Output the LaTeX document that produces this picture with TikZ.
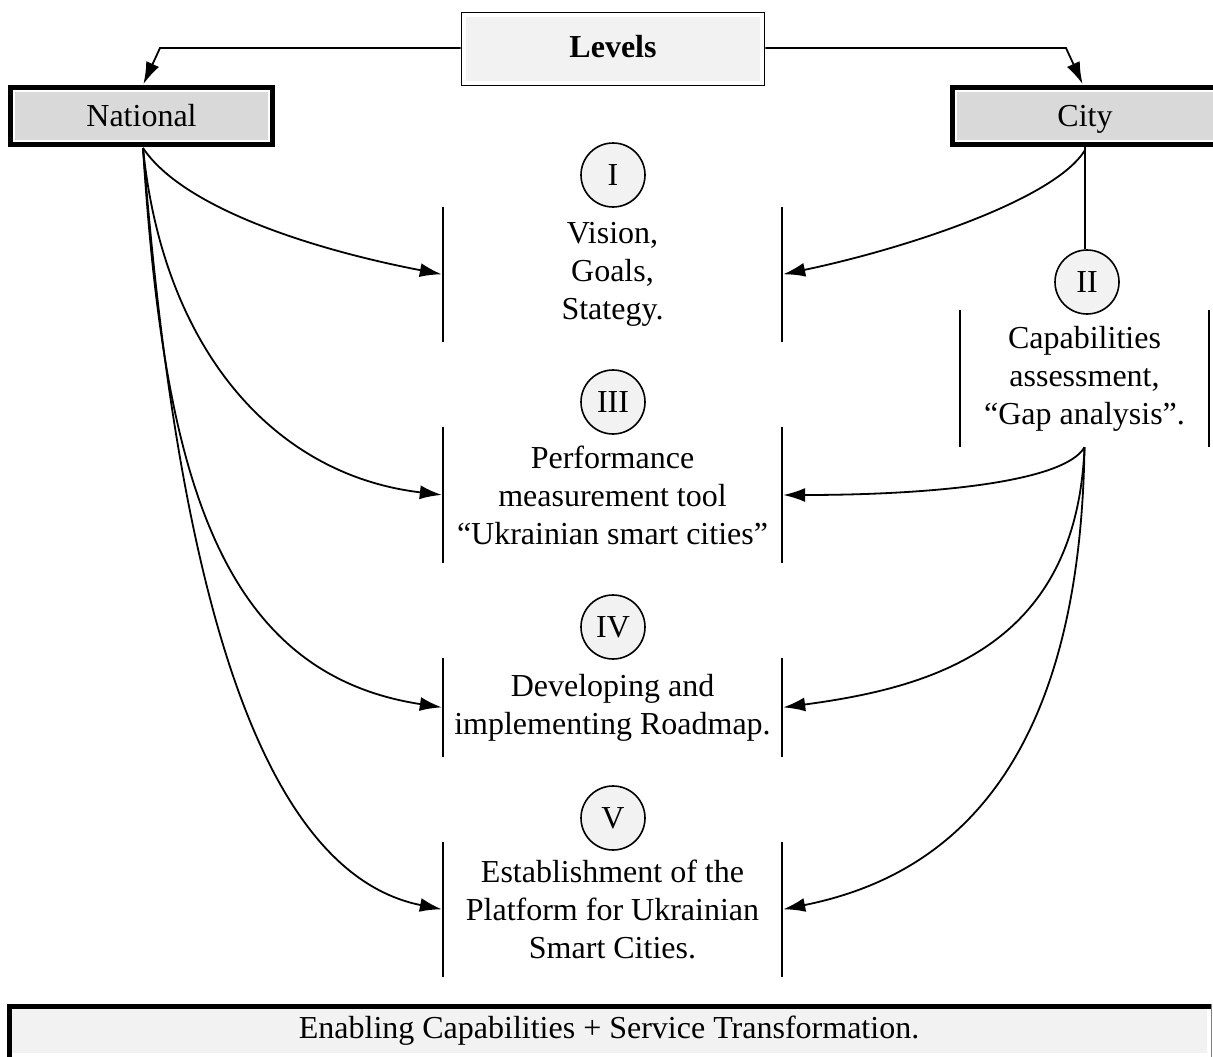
\documentclass[tikz,border=0pt]{standalone}
\usepackage{fontspec}
\setmainfont{Liberation Serif}
\usetikzlibrary{arrows.meta}
\definecolor{boxgray}{HTML}{D9D9D9}
\definecolor{lightfill}{HTML}{F2F2F2}
\begin{document}
\begin{tikzpicture}[x=1pt,y=1pt,
  every node/.style={font=\fontsize{32}{38}\selectfont},
  conn/.style={line width=1.8pt, -{Latex[length=22pt,width=14pt]}, shorten >=1pt},
  plain/.style={line width=1.8pt},
  inset/.style={fill=white, path picture={\fill[#1] ([shift={(4.5pt,-4.5pt)}]path picture bounding box.north west) rectangle ([shift={(-4.5pt,4.5pt)}]path picture bounding box.south east);}},
  levelbox/.style={draw, line width=5pt, inset=boxgray, inner sep=0pt, minimum height=57pt, text height=26pt, text depth=6pt},
  topbox/.style={draw, line width=1.6pt, inset=lightfill, inner sep=0pt, text height=24pt, text depth=6pt},
  numcirc/.style={circle, draw, line width=1.6pt, fill=lightfill, minimum size=64pt, inner sep=0pt},
  stagebox/.style={align=center, inner sep=0pt}
]
\useasboundingbox (0,0) rectangle (1213,-1057);

% top boxes
\node[topbox, minimum width=303pt, minimum height=73pt] (lev) at (613,-49) {\textbf{Levels}};
\node[levelbox, minimum width=262pt] (nat) at (141.5,-116) {National};
\node[levelbox, minimum width=266pt] (city) at (1085,-116) {City};

\coordinate (lbend) at (160,-48);
\coordinate (rbend) at (1066,-48);
\draw[conn] (lev.west |- lbend) -- (lbend) -- ([xshift=1.5pt]nat.north);
\draw[conn] (lev.east |- rbend) -- (rbend) -- ([xshift=-2pt]city.north);

% circles
\node[numcirc] (c1) at (613,-175) {I};
\node[numcirc] (c3) at (613,-402) {III};
\node[numcirc] (c4) at (613,-627) {IV};
\node[numcirc] (c5) at (613,-818) {V};
\node[numcirc] (c2) at (1087,-282) {II};

% stage boxes
\node[stagebox, minimum width=339pt, minimum height=135pt] (s1) at (612.5,-274.5) {Vision,\\Goals,\\Stategy.};
\node[stagebox, minimum width=339pt, minimum height=136pt] (s3) at (612.5,-495) {Performance\\measurement tool\\``Ukrainian smart cities''};
\node[stagebox, minimum width=339pt, minimum height=99pt] (s4) at (612.5,-707.5) {Developing and\\implementing Roadmap.};
\node[stagebox, minimum width=339pt, minimum height=135pt] (s5) at (612.5,-909.5) {Establishment of the\\Platform for Ukrainian\\Smart Cities.};
\node[stagebox, minimum width=249pt, minimum height=137pt] (s2) at (1084.5,-378.5) {Capabilities\\assessment,\\``Gap analysis''.};

\foreach \s in {s1,s2,s3,s4,s5}{
  \draw[plain] (\s.north west) -- (\s.south west);
  \draw[plain] (\s.north east) -- (\s.south east);
}

% city to circle II
\draw[plain] (city.south) -- (city.south |- c2.north);

% national curves
\coordinate (ns) at ([xshift=1.5pt,yshift=-1pt]nat.south);
\draw[conn] (ns) .. controls +(40,-60) and +(-130,25) .. (s1.west);
\draw[conn] (ns) .. controls +(20,-200) and +(-170,20) .. (s3.west);
\draw[conn] (ns) .. controls +(20,-313) and +(-230,35) .. (s4.west);
\draw[conn] (ns) .. controls +(30,-380) and +(-200,40) .. (s5.west);

% city curves
\coordinate (cs) at ([yshift=-3pt]city.south);
\draw[conn] (cs) .. controls +(-30,-50) and +(120,25) .. (s1.east);
\draw[conn] (s2.south) .. controls +(-20,-35) and +(150,0) .. (s3.east);
\draw[conn] (s2.south) .. controls +(-8,-200) and +(150,20) .. (s4.east);
\draw[conn] (s2.south) .. controls +(-5,-340) and +(150,30) .. (s5.east);

% bottom box
\node[inset=lightfill, minimum width=1204pt, minimum height=53pt, inner sep=0pt] (base) at (609,-1030.5) {Enabling Capabilities + Service Transformation.};
\draw[line width=5pt] (base.south west) ++(2.5,0) -- ([xshift=2.5pt,yshift=-2.5pt]base.north west) -- ([yshift=-2.5pt]base.north east);
\draw[line width=1.4pt, gray] (base.north east) -- (base.south east) -- (base.south west);
\end{tikzpicture}
\end{document}
